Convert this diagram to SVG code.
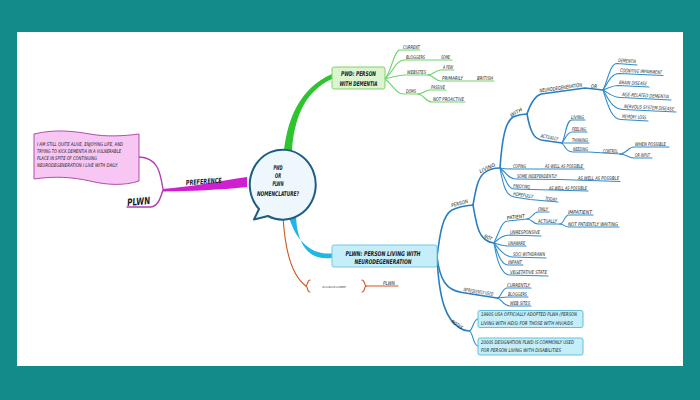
<svg xmlns="http://www.w3.org/2000/svg" width="700" height="400" viewBox="0 0 700 400">
<style>
.t{font-family:"Liberation Sans Narrow","DejaVu Sans Condensed","Liberation Sans",sans-serif;font-style:italic;font-size:5px;fill:#141c24}
.m{font-family:"Liberation Sans Narrow","DejaVu Sans Condensed","Liberation Sans",sans-serif;font-style:italic;font-weight:bold;font-size:6.5px;fill:#16202a}
.b1{fill:none;stroke:#2a7fc2;stroke-width:1.6;stroke-linecap:round}
.b2{fill:none;stroke:#2f8bcc;stroke-width:1.1;stroke-linecap:round}
.g2{fill:none;stroke:#6ed36a;stroke-width:1.1;stroke-linecap:round}
.mg{fill:none;stroke:#b43cb4;stroke-width:1.4;stroke-linecap:round}
.or{fill:none;stroke:#d2551d;stroke-width:1.1;stroke-linecap:round}
</style>
<rect x="0" y="0" width="700" height="400" fill="#138b8b"/>
<rect x="17" y="32" width="666" height="334" fill="#ffffff"/>

<g id="connectors">
  <path d="M284,150 C288,118 300,88 332,74 L332,79 C303,92 294,121 292,151 Z" fill="#2fc42f"/>
  <path d="M247,177 C220,181 190,187 163,189 L163,191.5 C190,191 220,190 247,187 Z" fill="#d01fd0"/>
  <path d="M288,214 C295,240 310,255 332,253.5 L332,258 C310,261 296,246 296,212 Z" fill="#22b5e8"/>
  <path class="or" d="M283,217 C285,250 292,276 306,286"/>
  <path class="or" d="M310,280 C307,280 308,285 306,286 C308,287 307,292 310,292"/>
  <path class="or" d="M362,280 C365,280 364,285 366,286 C364,287 365,292 362,292"/>
  <path class="or" d="M366,286 L398,286"/>
  <path class="mg" d="M163,189 C160,170 157,158 139,157"/>
  <path class="mg" d="M163,190 C160,200 157,207 150,207 L127,207"/>
  <path class="g2" d="M385,79 C392,70 394,50 400,50 L420,50"/>
  <path class="g2" d="M385,79 C393,72 396,60 404,60 L452,60"/>
  <path class="g2" d="M385,79 C393,77 398,75 405,75 L428,75"/>
  <path class="g2" d="M428,75 C433,75 435,70 441,70 L454,70"/>
  <path class="g2" d="M428,75 C433,75 435,81 441,81 L494,81"/>
  <path class="g2" d="M385,79 C393,85 396,94 404,94 L418,94"/>
  <path class="g2" d="M418,94 C423,94 425,90 430,90 L446,90"/>
  <path class="g2" d="M418,94 C423,94 426,102 432,102 L465,102"/>
  <path class="b1" d="M437,257 C440,232 443,215 452,210 Q460,206 473,205"/>
  <path class="b1" d="M473,205 C476,188 478,178 484,173 Q490,168 500,168"/>
  <path class="b1" d="M473,205 C476,222 478,235 486,240 Q490,243 494,243"/>
  <path class="b1" d="M437,257 C440,280 446,290 462,292.5 L497,298"/>
  <path class="b1" d="M437,257 C439,300 446,320 460,328 Q464,331 469,331"/>
  <path class="b2" d="M469,331 C473,331 473,319 478,319"/>
  <path class="b2" d="M469,331 C473,331 473,346 478,346"/>
  <path class="b1" d="M500,168 C502,140 505,122 513,117 Q520,114 527,114"/>
  <path class="b2" d="M500,168 C505,169 508,169 513,169 L584,169"/>
  <path class="b2" d="M500,168 C506,172 508,179 516,179 L560,179.5 L620,181.5"/>
  <path class="b2" d="M500,168 C505,178 508,189 514,189 L588,191"/>
  <path class="b2" d="M500,168 C503,185 506,196 514,197 L530,199.5 L558,202"/>
  <path class="b1" d="M527,114 C531,102 535,96 541,94 L585,88 L603,90"/>
  <path class="b1" d="M527,114 C530,130 533,138 541,140 L562,143"/>
  <path class="b2" d="M562,143 C566,135 566,120 572,120 L585,120"/>
  <path class="b2" d="M562,143 C566,138 567,132 572,132 L587,132"/>
  <path class="b2" d="M562,143 C566,143 568,143 572,143 L589,143"/>
  <path class="b2" d="M562,143 C566,148 567,152 573,152 L589,152 L620,154"/>
  <path class="b2" d="M620,154 C626,154 628,147 634,147 L669,147"/>
  <path class="b2" d="M620,154 C626,154 628,158 634,158 L652,158"/>
  <path class="b2" d="M603,90 C608,80 610,63.5 617,63.5 L637,65"/>
  <path class="b2" d="M603,90 C608,83 611,73.5 619,73.5 L663,75.5"/>
  <path class="b2" d="M603,90 C609,88 612,85.5 618,85.5 L649,87"/>
  <path class="b2" d="M603,90 C609,93 612,97.5 621,97.5 L671,100"/>
  <path class="b2" d="M603,90 C608,98 612,109.5 623,109.5 L676,112"/>
  <path class="b2" d="M603,90 C607,102 611,119.5 621,119.5 L648,121"/>
  <path class="b2" d="M494,243 C500,230 502,221 508,221 L527,219"/>
  <path class="b2" d="M527,219 C532,219 533,212 538,212 L549,212"/>
  <path class="b2" d="M527,219 C532,219 533,224 538,224 L560,224"/>
  <path class="b2" d="M560,224 C564,224 564,215 569,215 L593,215"/>
  <path class="b2" d="M560,224 C564,224 564,227 569,227 L619,227"/>
  <path class="b2" d="M494,243 C500,238 503,235 510,235 L541,236"/>
  <path class="b2" d="M494,243 C500,245 503,246 508,246 L526,246"/>
  <path class="b2" d="M494,243 C500,250 505,257 513,257 L546,258"/>
  <path class="b2" d="M494,243 C498,255 502,265 508,265 L523,265"/>
  <path class="b2" d="M494,243 C497,262 502,275 510,275 L548,276"/>
  <path class="b2" d="M497,298 C501,298 502,288 507,288 L531,288"/>
  <path class="b2" d="M497,298 C501,298 503,297 508,297 L528,297"/>
  <path class="b2" d="M497,298 C501,298 503,306 510,306 L531,306"/>
</g>

<g id="center">
  <path d="M268,216 L254,219.5 L259,209 A33 35 0 1 1 268,216 Z" fill="#eef7fc" stroke="#1d5d80" stroke-width="2" stroke-linejoin="round"/>
  <text class="m" x="278" y="169.5" text-anchor="middle" textLength="9" lengthAdjust="spacingAndGlyphs">PWD</text>
  <text class="m" x="278" y="177.5" text-anchor="middle" textLength="6" lengthAdjust="spacingAndGlyphs">OR</text>
  <text class="m" x="278" y="186" text-anchor="middle" textLength="11" lengthAdjust="spacingAndGlyphs">PLWN</text>
  <text class="m" x="278" y="195.5" text-anchor="middle" textLength="42" lengthAdjust="spacingAndGlyphs">NOMENCLATURE?</text>
</g>

<g id="flag">
  <path d="M34,134 C55,129 72,131 90,134 C106,137 124,136 139,134 L139,181 C124,186 106,185 90,181 C72,177 55,176 34,179 Z" fill="#f8c6f2" stroke="#b04cb0" stroke-width="1"/>
  <text class="t" x="37" y="146" textLength="86" lengthAdjust="spacingAndGlyphs">I AM STILL QUITE ALIVE, ENJOYING LIFE, AND</text>
  <text class="t" x="37" y="153" textLength="84" lengthAdjust="spacingAndGlyphs">TRYING TO KICK DEMENTIA IN A VULNERABLE</text>
  <text class="t" x="37" y="160" textLength="60" lengthAdjust="spacingAndGlyphs">PLACE IN SPITE OF CONTINUING</text>
  <text class="t" x="37" y="167" textLength="81" lengthAdjust="spacingAndGlyphs">NEURODEGENERATION I LIVE WITH DAILY.</text>
</g>
<g id="n-preference"><text class="m" x="204" y="184" text-anchor="middle" style="font-size:7px" transform="rotate(-4 204 184)" textLength="36" lengthAdjust="spacingAndGlyphs">PREFERENCE</text></g>
<g id="n-plwn-left"><text class="m" x="139" y="205" text-anchor="middle" style="font-size:10px" transform="rotate(-5 139 205)" textLength="23" lengthAdjust="spacingAndGlyphs">PLWN</text></g>

<g id="n-pwd">
  <rect x="332" y="67" width="53" height="22" rx="2" fill="#dcf5cf" stroke="#7fd36a" stroke-width="1"/>
  <text class="m" x="358.5" y="75.5" text-anchor="middle" textLength="35" lengthAdjust="spacingAndGlyphs">PWD: PERSON</text>
  <text class="m" x="358.5" y="85.5" text-anchor="middle" textLength="38" lengthAdjust="spacingAndGlyphs">WITH DEMENTIA</text>
</g>
<g id="n-current"><text class="t" x="403" y="48.5" textLength="17" lengthAdjust="spacingAndGlyphs">CURRENT</text></g>
<g id="n-bloggers"><text class="t" x="406" y="58.5" textLength="19" lengthAdjust="spacingAndGlyphs">BLOGGERS</text></g>
<g id="n-some"><text class="t" x="441" y="58.5" textLength="9" lengthAdjust="spacingAndGlyphs">SOME</text></g>
<g id="n-websites"><text class="t" x="407" y="73.5" textLength="19" lengthAdjust="spacingAndGlyphs">WEBSITES</text></g>
<g id="n-afew"><text class="t" x="443" y="68.5" textLength="10" lengthAdjust="spacingAndGlyphs">A FEW</text></g>
<g id="n-primarily"><text class="t" x="442" y="79.5" textLength="21" lengthAdjust="spacingAndGlyphs">PRIMARILY</text></g>
<g id="n-british"><text class="t" x="477" y="79.5" textLength="16" lengthAdjust="spacingAndGlyphs">BRITISH</text></g>
<g id="n-doms"><text class="t" x="406" y="92.5" textLength="10" lengthAdjust="spacingAndGlyphs">DOMS</text></g>
<g id="n-passive"><text class="t" x="431" y="88.5" textLength="14" lengthAdjust="spacingAndGlyphs">PASSIVE</text></g>
<g id="n-notproactive"><text class="t" x="433" y="100.5" textLength="31" lengthAdjust="spacingAndGlyphs">NOT PROACTIVE</text></g>

<g id="n-plwn-box">
  <rect x="332" y="245" width="105" height="22" rx="2" fill="#c6eef8" stroke="#73c9e2" stroke-width="1"/>
  <text class="m" x="383" y="255.5" text-anchor="middle" textLength="75" lengthAdjust="spacingAndGlyphs">PLWN: PERSON LIVING WITH</text>
  <text class="m" x="383" y="264" text-anchor="middle" textLength="57" lengthAdjust="spacingAndGlyphs">NEURODEGENERATION</text>
</g>
<g id="n-comment"><text class="t" x="334" y="287.5" text-anchor="middle" style="font-size:2.6px" textLength="24" lengthAdjust="spacingAndGlyphs">LIKE A LABEL OR A COMMENT</text></g>
<g id="n-plwn-small"><text class="t" x="383" y="284.5" textLength="12" lengthAdjust="spacingAndGlyphs">PLWN</text></g>

<g id="n-person"><text class="t" x="460" y="205" text-anchor="middle" transform="rotate(-15 460 205)" textLength="17" lengthAdjust="spacingAndGlyphs">PERSON</text></g>
<g id="n-living"><text class="t" x="488" y="169.5" text-anchor="middle" transform="rotate(-25 488 169.5)" textLength="17" lengthAdjust="spacingAndGlyphs">LIVING</text></g>
<g id="n-with"><text class="t" x="517" y="114" text-anchor="middle" transform="rotate(-30 517 114)" textLength="13" lengthAdjust="spacingAndGlyphs">WITH</text></g>
<g id="n-neuro"><text class="t" x="561" y="89.5" text-anchor="middle" transform="rotate(-8 561 89.5)" textLength="43" lengthAdjust="spacingAndGlyphs">NEURODEGENERATION</text></g>
<g id="n-or"><text class="t" x="591" y="87.5" textLength="6" lengthAdjust="spacingAndGlyphs">OR</text></g>
<g id="n-dementia"><text class="t" x="618" y="62" transform="rotate(4 618 62)" textLength="18" lengthAdjust="spacingAndGlyphs">DEMENTIA</text></g>
<g id="n-cognitive"><text class="t" x="620" y="72" transform="rotate(3 620 72)" textLength="42" lengthAdjust="spacingAndGlyphs">COGNITIVE IMPAIRMENT</text></g>
<g id="n-brain"><text class="t" x="619" y="84" transform="rotate(3 619 84)" textLength="28" lengthAdjust="spacingAndGlyphs">BRAIN DISEASE</text></g>
<g id="n-agerelated"><text class="t" x="622" y="96" transform="rotate(3 622 96)" textLength="47" lengthAdjust="spacingAndGlyphs">AGE-RELATED DEMENTIA</text></g>
<g id="n-nervous"><text class="t" x="624" y="108" transform="rotate(3 624 108)" textLength="50" lengthAdjust="spacingAndGlyphs">NERVOUS SYSTEM DISEASE</text></g>
<g id="n-memory"><text class="t" x="622" y="118" transform="rotate(3 622 118)" textLength="24" lengthAdjust="spacingAndGlyphs">MEMORY LOSS</text></g>
<g id="n-actually1"><text class="t" x="549" y="139" text-anchor="middle" transform="rotate(10 549 139)" textLength="18" lengthAdjust="spacingAndGlyphs">ACTUALLY</text></g>
<g id="n-living2"><text class="t" x="571" y="118.5" textLength="13" lengthAdjust="spacingAndGlyphs">LIVING</text></g>
<g id="n-feeling"><text class="t" x="572" y="130.5" textLength="14" lengthAdjust="spacingAndGlyphs">FEELING</text></g>
<g id="n-thinking"><text class="t" x="572" y="141.5" textLength="16" lengthAdjust="spacingAndGlyphs">THINKING</text></g>
<g id="n-needing"><text class="t" x="573" y="150.5" textLength="15" lengthAdjust="spacingAndGlyphs">NEEDING</text></g>
<g id="n-control"><text class="t" x="603" y="152.5" textLength="15" lengthAdjust="spacingAndGlyphs">CONTROL</text></g>
<g id="n-whenpossible"><text class="t" x="635" y="145.5" textLength="31" lengthAdjust="spacingAndGlyphs">WHEN POSSIBLE</text></g>
<g id="n-orinput"><text class="t" x="635" y="156.5" textLength="15" lengthAdjust="spacingAndGlyphs">OR INPUT</text></g>
<g id="n-coping"><text class="t" x="513" y="167.5" textLength="13" lengthAdjust="spacingAndGlyphs">COPING</text></g>
<g id="n-awap1"><text class="t" x="545" y="167.5" textLength="38" lengthAdjust="spacingAndGlyphs">AS WELL AS POSSIBLE</text></g>
<g id="n-someind"><text class="t" x="517" y="177.5" textLength="40" lengthAdjust="spacingAndGlyphs">SOME INDEPENDENTLY</text></g>
<g id="n-awap2"><text class="t" x="578" y="179.5" textLength="41" lengthAdjust="spacingAndGlyphs">AS WELL AS POSSIBLE</text></g>
<g id="n-enjoying"><text class="t" x="513" y="187.5" transform="rotate(4 513 187.5)" textLength="17" lengthAdjust="spacingAndGlyphs">ENJOYING</text></g>
<g id="n-awap3"><text class="t" x="549" y="189.5" textLength="38" lengthAdjust="spacingAndGlyphs">AS WELL AS POSSIBLE</text></g>
<g id="n-hopefully"><text class="t" x="513" y="195.5" transform="rotate(8 513 195.5)" textLength="20" lengthAdjust="spacingAndGlyphs">HOPEFULLY</text></g>
<g id="n-today"><text class="t" x="545" y="200.3" transform="rotate(5 545 200.3)" textLength="12" lengthAdjust="spacingAndGlyphs">TODAY</text></g>
<g id="n-not"><text class="t" x="487.5" y="239" text-anchor="middle" transform="rotate(25 487.5 239)" textLength="8" lengthAdjust="spacingAndGlyphs">NOT</text></g>
<g id="n-patient"><text class="t" x="516" y="218.7" text-anchor="middle" transform="rotate(-6 516 218.7)" textLength="18" lengthAdjust="spacingAndGlyphs">PATIENT</text></g>
<g id="n-only"><text class="t" x="538" y="210.5" textLength="10" lengthAdjust="spacingAndGlyphs">ONLY</text></g>
<g id="n-actually2"><text class="t" x="538" y="222.5" textLength="19" lengthAdjust="spacingAndGlyphs">ACTUALLY</text></g>
<g id="n-impatient"><text class="t" x="568" y="213.5" textLength="24" lengthAdjust="spacingAndGlyphs">IMPATIENT</text></g>
<g id="n-notpatiently"><text class="t" x="568" y="225.5" textLength="50" lengthAdjust="spacingAndGlyphs">NOT PATIENTLY WAITING</text></g>
<g id="n-unresponsive"><text class="t" x="510" y="233.5" textLength="30" lengthAdjust="spacingAndGlyphs">UNRESPONSIVE</text></g>
<g id="n-unaware"><text class="t" x="508" y="244.5" textLength="17" lengthAdjust="spacingAndGlyphs">UNAWARE</text></g>
<g id="n-withdrawn"><text class="t" x="513" y="255.5" textLength="32" lengthAdjust="spacingAndGlyphs">SOCI WITHDRAWN</text></g>
<g id="n-infant"><text class="t" x="508" y="263.5" textLength="14" lengthAdjust="spacingAndGlyphs">INFANT</text></g>
<g id="n-vegetative"><text class="t" x="510" y="273.5" textLength="37" lengthAdjust="spacingAndGlyphs">VEGETATIVE STATE</text></g>
<g id="n-infrequently"><text class="t" x="478" y="293.5" text-anchor="middle" transform="rotate(9 478 293.5)" textLength="30" lengthAdjust="spacingAndGlyphs">INFREQUENTLY USED</text></g>
<g id="n-currently"><text class="t" x="507" y="286.5" textLength="23" lengthAdjust="spacingAndGlyphs">CURRENTLY</text></g>
<g id="n-bloggers2"><text class="t" x="508" y="295.5" textLength="19" lengthAdjust="spacingAndGlyphs">BLOGGERS</text></g>
<g id="n-websites2"><text class="t" x="510" y="304.5" textLength="20" lengthAdjust="spacingAndGlyphs">WEB SITES</text></g>
<g id="n-notes"><text class="t" x="456" y="326" text-anchor="middle" transform="rotate(35 456 326)" textLength="13" lengthAdjust="spacingAndGlyphs">NOTES</text></g>
<g id="n-note1">
  <rect x="478" y="310.5" width="105" height="17" rx="2" fill="#c6eef8" stroke="#5fc2df" stroke-width="1"/>
  <text class="t" x="481" y="316.3" textLength="96" lengthAdjust="spacingAndGlyphs">1990S USA OFFICIALLY ADOPTED PLWA (PERSON</text>
  <text class="t" x="481" y="324.8" textLength="92" lengthAdjust="spacingAndGlyphs">LIVING WITH AIDS) FOR THOSE WITH HIV/AIDS</text>
</g>
<g id="n-note2">
  <rect x="478" y="338" width="105" height="17" rx="2" fill="#c6eef8" stroke="#5fc2df" stroke-width="1"/>
  <text class="t" x="481" y="344.3" textLength="93" lengthAdjust="spacingAndGlyphs">2000S DESIGNATION PLWD IS COMMONLY USED</text>
  <text class="t" x="481" y="352.3" textLength="80" lengthAdjust="spacingAndGlyphs">FOR PERSON LIVING WITH DISABILITIES</text>
</g>
</svg>
